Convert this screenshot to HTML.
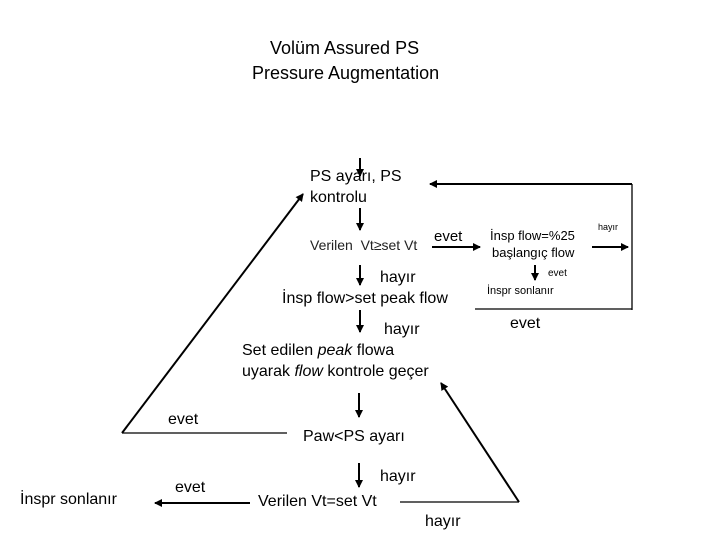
<!DOCTYPE html>
<html><head><meta charset="utf-8"><style>
body{margin:0;background:#fff;}
#c{position:relative;width:720px;height:540px;overflow:hidden;font-family:"Liberation Sans",Arial,sans-serif;color:#000;}
.t{position:absolute;white-space:nowrap;line-height:1;}
svg{position:absolute;left:0;top:0;}
</style></head><body><div id="c">
<svg width="720" height="540">
<defs><marker id="a" markerWidth="8" markerHeight="8" refX="7" refY="4" orient="auto" markerUnits="userSpaceOnUse"><path d="M0,0 L8,4 L0,8 z" fill="#000"/></marker></defs>
<g stroke="#000" stroke-width="2" fill="none">
<line x1="360" y1="158" x2="360" y2="176" marker-end="url(#a)"/>
<line x1="360" y1="208" x2="360" y2="230" marker-end="url(#a)"/>
<line x1="432" y1="247" x2="480" y2="247" marker-end="url(#a)"/>
<line x1="592" y1="247" x2="628" y2="247" marker-end="url(#a)"/>
<line x1="535" y1="265" x2="535" y2="280" marker-end="url(#a)"/>
<line x1="360" y1="265" x2="360" y2="285" marker-end="url(#a)"/>
<line x1="360" y1="310" x2="360" y2="332" marker-end="url(#a)"/>
<line x1="359" y1="393" x2="359" y2="417" marker-end="url(#a)"/>
<line x1="359" y1="463" x2="359" y2="487" marker-end="url(#a)"/>
<line x1="250" y1="503" x2="155" y2="503" marker-end="url(#a)"/>
<polyline points="122,433 303,194" marker-end="url(#a)"/>
<line x1="519" y1="502" x2="441" y2="383" marker-end="url(#a)"/>
<line x1="632" y1="184" x2="430" y2="184" marker-end="url(#a)"/>
</g>
<g stroke="#000" stroke-width="1.3" fill="none">
<line x1="632" y1="184" x2="632" y2="310"/>
<line x1="475" y1="309" x2="632" y2="309"/>
<line x1="122" y1="433" x2="287" y2="433"/>
<line x1="400" y1="502" x2="519" y2="502"/>
</g>
</svg>
<div class="t" style="left:270px;top:39px;font-size:18px">Volüm Assured PS</div>
<div class="t" style="left:252px;top:64px;font-size:18px">Pressure Augmentation</div>
<div class="t" style="left:310px;top:169px;font-size:16px">PS ayarı, PS</div>
<div class="t" style="left:310px;top:190px;font-size:16px">kontrolu</div>
<div class="t" style="left:310px;top:238px;font-size:14px;color:#222">Verilen &nbsp;Vt≥set Vt</div>
<div class="t" style="left:434px;top:229px;font-size:15px">evet</div>
<div class="t" style="left:490px;top:229px;font-size:13px">İnsp flow=%25</div>
<div class="t" style="left:492px;top:246px;font-size:13px">başlangıç flow</div>
<div class="t" style="left:598px;top:223px;font-size:9px">hayır</div>
<div class="t" style="left:548px;top:269px;font-size:10px">evet</div>
<div class="t" style="left:487px;top:286px;font-size:11px">İnspr sonlanır</div>
<div class="t" style="left:510px;top:316px;font-size:16px">evet</div>
<div class="t" style="left:380px;top:270px;font-size:16px">hayır</div>
<div class="t" style="left:282px;top:291px;font-size:16px">İnsp flow&gt;set peak flow</div>
<div class="t" style="left:384px;top:322px;font-size:16px">hayır</div>
<div class="t" style="left:242px;top:343px;font-size:16px">Set edilen <i>peak</i> flowa</div>
<div class="t" style="left:242px;top:364px;font-size:16px">uyarak <i>flow</i> kontrole geçer</div>
<div class="t" style="left:168px;top:412px;font-size:16px">evet</div>
<div class="t" style="left:303px;top:429px;font-size:16px">Paw&lt;PS ayarı</div>
<div class="t" style="left:380px;top:469px;font-size:16px">hayır</div>
<div class="t" style="left:175px;top:480px;font-size:16px">evet</div>
<div class="t" style="left:20px;top:492px;font-size:16px">İnspr sonlanır</div>
<div class="t" style="left:258px;top:494px;font-size:16px">Verilen Vt=set Vt</div>
<div class="t" style="left:425px;top:514px;font-size:16px">hayır</div>
</div></body></html>
